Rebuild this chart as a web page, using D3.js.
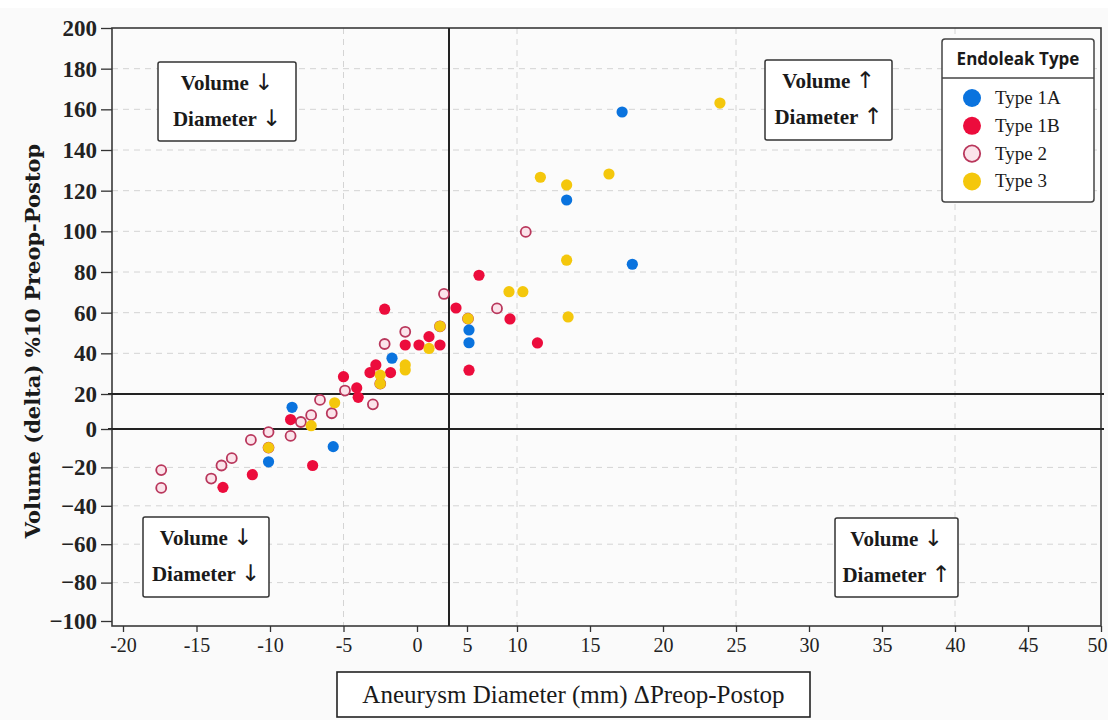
<!DOCTYPE html>
<html><head><meta charset="utf-8">
<script src="https://cdn.jsdelivr.net/npm/d3@7"></script>
<style>body{margin:0;background:#fafafa}</style>
</head><body><svg id="c" width="1108" height="720"></svg>
<script>
// ---- data ----
const xTicks = [-20,-15,-10,-5,0,5,10,15,20,25,30,35,40,45,50];
const yTicks = [-100,-80,-60,-40,-20,0,20,40,60,80,100,120,140,160,180,200];
const xBreaks = [-20, 0, 10, 50];
const yBreaks = [-100, 0, 20, 200];
const gridX = [-5, 10, 25, 40];
const refX = 3.2;
const refY = [20, 0];
const seriesNames = ["Type 1A", "Type 1B", "Type 2", "Type 3"];
const type1A = [[13.4,115.4],[17.2,158.7],[17.9,83.8],[5.2,51.5],[5.2,45.2],[-1.7,37.6],[-8.5,12.4],[-5.7,-9.2],[-10.1,-17.1]];
const type1B = [[6.2,78.4],[3.9,62.3],[9.3,56.9],[11.4,45.1],[5.2,31.7],[-2.2,61.7],[-0.8,44.1],[0.2,44.1],[1.2,48.2],[2.3,44.1],[-2.8,34.3],[-3.2,30.5],[-1.8,30.5],[-5.0,28.5],[-4.1,23.0],[-4.0,18.1],[-8.6,5.4],[-7.1,-19.0],[-11.2,-23.8],[-13.2,-30.4]];
const type2 = [[10.6,99.7],[2.7,69.2],[8.0,62.1],[-0.8,50.6],[-2.2,44.6],[-4.9,21.7],[-6.6,16.6],[-3.0,14.1],[-7.2,7.9],[-5.8,9.0],[-7.9,4.0],[-10.1,-1.6],[-8.6,-3.6],[-11.3,-5.7],[-12.6,-15.2],[-13.3,-19.0],[-17.4,-21.4],[-14.0,-25.8],[-17.4,-30.7],[5.1,57.1],[2.3,53.3],[-2.5,25.1],[-10.1,-9.7]];
const type3 = [[23.9,163.1],[11.6,126.6],[13.4,122.8],[16.3,128.2],[13.4,85.8],[9.2,70.3],[10.4,70.3],[13.5,57.9],[1.2,42.4],[-2.5,29.3],[-0.8,34.3],[-0.8,31.8],[-5.6,15.0],[-7.2,1.9],[5.1,57.1],[2.3,53.3],[-2.5,25.1],[-10.1,-9.7]];
const quadrantText = [[["Volume","↓"],["Diameter","↓"]],[["Volume","↑"],["Diameter","↑"]],[["Volume","↓"],["Diameter","↓"]],[["Volume","↓"],["Diameter","↑"]]];
const xTitle = "Aneurysm Diameter (mm) ΔPreop-Postop";
const yTitle = "Volume (delta) %10 Preop-Postop";
const legendTitle = "Endoleak Type";

// ---- styles ----
const styles = {
  "Type 1A": {fill:"#0a73de", stroke:"none", sw:0},
  "Type 1B": {fill:"#ec0c3c", stroke:"none", sw:0},
  "Type 2":  {fill:"#fbe3ea", stroke:"#b9375c", sw:1.8},
  "Type 3":  {fill:"#f4c70c", stroke:"none", sw:0}
};
const seriesData = {"Type 1A":type1A,"Type 1B":type1B,"Type 2":type2,"Type 3":type3};

const svg = d3.select("#c");
const L = 112, R = 1101, T = 28, B = 626;
const x = d3.scaleLinear().domain(xBreaks).range([123, 417, 517, 1101]);
const y = d3.scaleLinear().domain(yBreaks).range([621, 429, 394, 28]);

svg.append("rect").attr("x",0).attr("y",0).attr("width",1108).attr("height",8).attr("fill","#ffffff");
svg.append("rect").attr("x",L).attr("y",T).attr("width",R-L).attr("height",B-T).attr("fill","#fbfbfb");

// gridlines
svg.append("g").selectAll("line").data(yTicks.filter(d=>!refY.includes(d) && d!==200 && d!==-100)).join("line")
  .attr("x1",L).attr("x2",R).attr("y1",d=>y(d)).attr("y2",d=>y(d))
  .attr("stroke","#d4d4d4").attr("stroke-width",1).attr("stroke-dasharray","6,5");
svg.append("g").selectAll("line").data(gridX).join("line")
  .attr("x1",d=>x(d)).attr("x2",d=>x(d)).attr("y1",T).attr("y2",B)
  .attr("stroke","#d4d4d4").attr("stroke-width",1).attr("stroke-dasharray","6,5");

// frame
svg.append("rect").attr("x",L).attr("y",T).attr("width",R-L).attr("height",B-T)
  .attr("fill","none").attr("stroke","#3a3a3a").attr("stroke-width",1.6);

// reference lines
svg.append("g").selectAll("line").data(refY).join("line")
  .attr("x1",L-4).attr("x2",R+3).attr("y1",d=>y(d)).attr("y2",d=>y(d))
  .attr("stroke","#222").attr("stroke-width",2);
svg.append("line").attr("x1",x(refX)).attr("x2",x(refX)).attr("y1",T).attr("y2",B)
  .attr("stroke","#222").attr("stroke-width",2);

// axes
const yAxis = svg.append("g").attr("transform",`translate(${L},0)`)
  .call(d3.axisLeft(y).tickValues(yTicks).tickSize(11).tickPadding(4));
yAxis.select(".domain").remove();
yAxis.selectAll(".tick line").attr("stroke","#333").attr("stroke-width",1.3);
yAxis.selectAll("text").attr("font-family","'Liberation Serif', serif").attr("font-weight","bold")
  .attr("font-size",23).attr("fill","#222");

const xAxis = svg.append("g").attr("transform",`translate(0,${B})`)
  .call(d3.axisBottom(x).tickValues(xTicks).tickSize(6).tickPadding(6)
    .tickFormat(d => d < 0 ? "-" + (-d) : String(d)));
xAxis.select(".domain").remove();
xAxis.selectAll(".tick line").attr("stroke","#333").attr("stroke-width",1.3);
xAxis.selectAll("text").attr("font-family","'Liberation Serif', serif")
  .attr("font-size",20).attr("fill","#222");
// keep the last label inside the canvas
xAxis.selectAll(".tick").filter(d => d === xTicks[xTicks.length-1]).select("text")
  .attr("text-anchor","end").attr("dx", 6);

// points
const drawOrder = ["Type 2","Type 1A","Type 1B","Type 3"];
drawOrder.forEach(name => {
  const st = styles[name];
  svg.append("g").selectAll("circle").data(seriesData[name]).join("circle")
    .attr("cx",d=>x(d[0])).attr("cy",d=>y(d[1]))
    .attr("r", name==="Type 2" ? 5 : 5.6)
    .attr("fill",st.fill).attr("stroke",st.stroke).attr("stroke-width",st.sw);
});

// quadrant boxes
const qBoxes = [
  {x:158,y:62,w:138,h:79},
  {x:765,y:60,w:127,h:80},
  {x:143,y:517,w:126,h:80},
  {x:835,y:518,w:123,h:79}
];
qBoxes.forEach((b,i) => {
  const g = svg.append("g");
  g.append("rect").attr("x",b.x).attr("y",b.y).attr("width",b.w).attr("height",b.h).attr("rx",2)
    .attr("fill","#ffffff").attr("stroke","#333").attr("stroke-width",1.5);
  const t = g.selectAll("text").data(quadrantText[i]).join("text")
    .attr("x",b.x+b.w/2).attr("y",(d,j)=>b.y+28+j*36)
    .attr("text-anchor","middle")
    .attr("font-family","'Liberation Serif', serif").attr("font-weight","bold")
    .attr("font-size",21).attr("fill","#1a1a1a");
  t.append("tspan").text(d=>d[0] + " ");
  t.append("tspan").attr("font-family","'DejaVu Sans', sans-serif").attr("font-weight","normal")
    .attr("font-size",23).text(d=>d[1]);
});

// legend
const lg = svg.append("g");
lg.append("rect").attr("x",942).attr("y",39).attr("width",152).attr("height",163).attr("rx",3)
  .attr("fill","#ffffff").attr("stroke","#444").attr("stroke-width",1.5);
lg.append("line").attr("x1",942).attr("x2",1094).attr("y1",78).attr("y2",78)
  .attr("stroke","#444").attr("stroke-width",1.5);
lg.append("text").attr("x",1018).attr("y",65).attr("text-anchor","middle")
  .attr("font-family","'Open Sans', sans-serif").attr("font-weight","bold").attr("font-size",17)
  .attr("fill","#1a1a1a").text(legendTitle);
seriesNames.forEach((name,i) => {
  const st = styles[name];
  const cy = 98 + i*27.8;
  lg.append("circle").attr("cx",972).attr("cy",cy).attr("r", name==="Type 2" ? 8.2 : 9)
    .attr("fill",st.fill).attr("stroke",st.stroke).attr("stroke-width",st.sw);
  lg.append("text").attr("x",995).attr("y",cy+6)
    .attr("font-family","'Liberation Serif', serif").attr("font-size",19).attr("fill","#1a1a1a").text(name);
});

// axis titles
svg.append("rect").attr("x",337).attr("y",672).attr("width",473).attr("height",45)
  .attr("fill","#ffffff").attr("stroke","#222").attr("stroke-width",1.6);
svg.append("text").attr("x",573.5).attr("y",703).attr("text-anchor","middle")
  .attr("font-family","'Liberation Serif', serif").attr("font-size",25).attr("fill","#1a1a1a").text(xTitle);
svg.append("text").attr("transform","translate(40,341) rotate(-90)").attr("text-anchor","middle")
  .attr("font-family","'DejaVu Serif', serif").attr("font-weight","bold").attr("font-size",21)
  .attr("fill","#1a1a1a").text(yTitle);
</script></body></html>
